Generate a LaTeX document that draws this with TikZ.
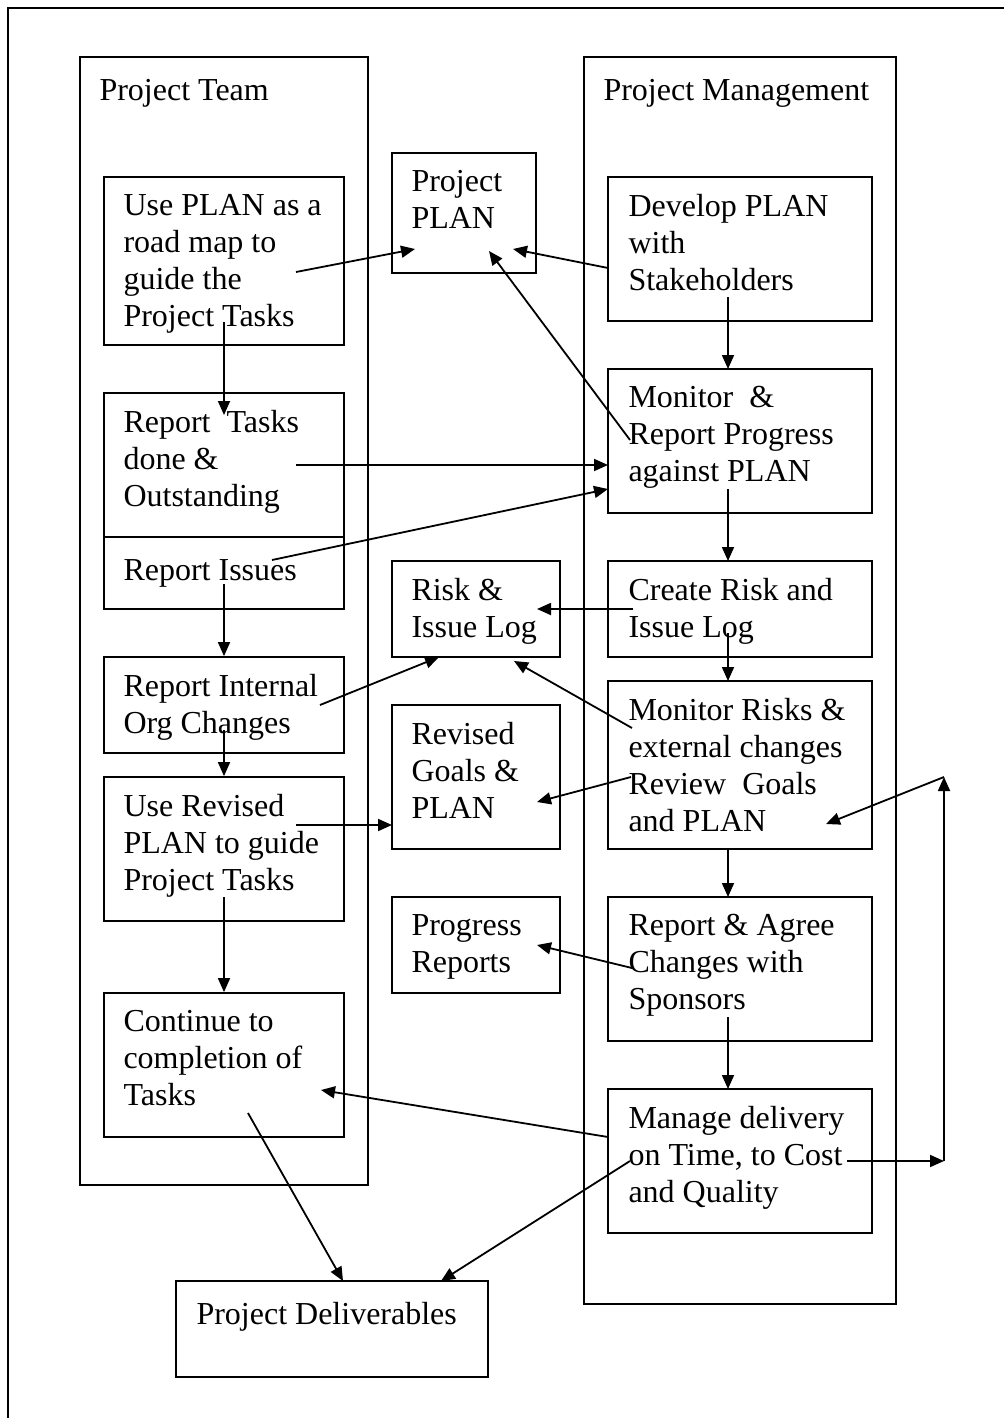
\documentclass[tikz,border=0pt]{standalone}
\usepackage{fontspec}
\setmainfont{Liberation Serif}
\usetikzlibrary{arrows.meta,calc,fit}
\begin{document}
\begin{tikzpicture}[x=0.5pt,y=-0.5pt,
  frame/.style={draw, line width=0.9pt, inner sep=0pt},
  lbl/.style={anchor=north west, inner sep=0pt, align=left,
    font=\fontsize{16}{18.5}\selectfont, execute at begin node=\strut},
  link/.style={line width=0.9pt, -{Triangle[length=7pt,width=6pt]}},
  plain/.style={line width=0.9pt}]
\useasboundingbox (0,0) rectangle (1004,1418);

% page frame (runs off the right and bottom edges)
\draw[plain] (8,1418) -- (8,8) -- (1004,8);

% swim lanes
\node[frame, fit={(80,57) (368,1185)}] (team) {};
\node[lbl] (team-t) at ($(team.north west)+(20,18)$) {Project Team};
\node[frame, fit={(584,57) (896,1304)}] (mgmt) {};
\node[lbl] (mgmt-t) at ($(mgmt.north west)+(20,18)$) {Project Management};

% project team boxes
\node[frame, fit={(104,177) (344,345)}] (b1) {};
\node[lbl] (b1-t) at ($(b1.north west)+(20,18)$) {Use PLAN as a\\road map to\\guide the\\Project Tasks};
\node[frame, fit={(104,393) (344,537)}] (b2) {};
\node[lbl] (b2-t) at ($(b2.north west)+(20,18)$) {Report\ \ Tasks\\done \&\\Outstanding};
\node[frame, fit={(104,537) (344,609)}] (b2i) {};
\node[lbl] (b2i-t) at ($(b2i.north west)+(20,18)$) {Report Issues};
\node[frame, fit={(104,657) (344,753)}] (b3) {};
\node[lbl] (b3-t) at ($(b3.north west)+(20,18)$) {Report Internal\\Org Changes};
\node[frame, fit={(104,777) (344,921)}] (b4) {};
\node[lbl] (b4-t) at ($(b4.north west)+(20,18)$) {Use Revised\\PLAN to guide\\Project Tasks};
\node[frame, fit={(104,993) (344,1137)}] (b5) {};
\node[lbl] (b5-t) at ($(b5.north west)+(20,18)$) {Continue to\\completion of\\Tasks};

% shared documents
\node[frame, fit={(392,153) (536,273)}] (plan) {};
\node[lbl] (plan-t) at ($(plan.north west)+(20,18)$) {Project\\PLAN};
\node[frame, fit={(392,561) (560,657)}] (risk) {};
\node[lbl] (risk-t) at ($(risk.north west)+(20,18)$) {Risk \&\\Issue Log};
\node[frame, fit={(392,705) (560,849)}] (rev) {};
\node[lbl] (rev-t) at ($(rev.north west)+(20,18)$) {Revised\\Goals \&\\PLAN};
\node[frame, fit={(392,897) (560,993)}] (prog) {};
\node[lbl] (prog-t) at ($(prog.north west)+(20,18)$) {Progress\\Reports};

% project management boxes
\node[frame, fit={(608,177) (872,321)}] (dev) {};
\node[lbl] (dev-t) at ($(dev.north west)+(21,18)$) {Develop PLAN\\with\\Stakeholders};
\node[frame, fit={(608,369) (872,513)}] (mon) {};
\node[lbl] (mon-t) at ($(mon.north west)+(21,18)$) {Monitor\ \ \&\\Report Progress\\against PLAN};
\node[frame, fit={(608,561) (872,657)}] (cre) {};
\node[lbl] (cre-t) at ($(cre.north west)+(21,18)$) {Create Risk and\\Issue Log};
\node[frame, fit={(608,681) (872,849)}] (mrk) {};
\node[lbl] (mrk-t) at ($(mrk.north west)+(21,18)$) {Monitor Risks \&\\external changes\\Review\ \ Goals\\and PLAN};
\node[frame, fit={(608,897) (872,1041)}] (rag) {};
\node[lbl] (rag-t) at ($(rag.north west)+(21,18)$) {Report \& Agree\\Changes with\\Sponsors};
\node[frame, fit={(608,1089) (872,1233)}] (man) {};
\node[lbl] (man-t) at ($(man.north west)+(21,18)$) {Manage delivery\\on Time, to Cost\\and Quality};

% outcome
\node[frame, fit={(176,1281) (488,1377)}] (del) {};
\node[lbl] (del-t) at ($(del.north west)+(21,18)$) {Project Deliverables};

% connector end points
\coordinate (b1-out) at (296,272);   \coordinate (plan-in1) at (415,249);
\coordinate (dev-out) at (608,268);  \coordinate (plan-in2) at (513,249);
\coordinate (mon-out) at (630,440);  \coordinate (plan-in3) at (489,251);
\coordinate (b1-down) at (224,322);  \coordinate (b2-in) at (224,415);
\coordinate (b2-out) at (296,465);   \coordinate (mon-in1) at (608,465);
\coordinate (b2i-out) at (272,560);  \coordinate (mon-in2) at (608,489);
\coordinate (b2i-down) at (224,584);
\coordinate (b3-out) at (320,705);   \coordinate (risk-in1) at (439,657);
\coordinate (b3-down) at (224,730);
\coordinate (b4-out) at (296,825);   \coordinate (rev-in1) at (392,825);
\coordinate (b4-down) at (224,897);
\coordinate (cre-out) at (633,609);  \coordinate (risk-in2) at (537,609);
\coordinate (mrk-out1) at (632,728); \coordinate (risk-in3) at (514,661);
\coordinate (mrk-out2) at (631,777); \coordinate (rev-in2) at (537,802);
\coordinate (rag-out) at (632,968);  \coordinate (prog-in) at (537,945);
\coordinate (dev-down) at (728,297); \coordinate (mon-top) at (728,369);
\coordinate (mon-down) at (728,489); \coordinate (cre-top) at (728,561);
\coordinate (cre-down) at (728,633); \coordinate (mrk-top) at (728,681);
\coordinate (mrk-down) at (728,849); \coordinate (rag-top) at (728,897);
\coordinate (rag-down) at (728,1017);\coordinate (man-top) at (728,1089);
\coordinate (man-out1) at (608,1137);\coordinate (b5-in) at (321,1090);
\coordinate (b5-out) at (248,1113);  \coordinate (del-in1) at (343,1281);
\coordinate (man-out2) at (630,1161);\coordinate (del-in2) at (441,1281);
\coordinate (man-out3) at (847,1161);\coordinate (loop-low) at (944,1161);
\coordinate (loop-high) at (944,777);\coordinate (mrk-in) at (826,824);

% connectors
\draw[link] (b1-out) -- (plan-in1);
\draw[link] (dev-out) -- (plan-in2);
\draw[link] (mon-out) -- (plan-in3);
\draw[link] (b1-down) -- (b2-in);
\draw[link] (b2-out) -- (mon-in1);
\draw[link] (b2i-out) -- (mon-in2);
\draw[link] (b2i-down) -- (b3.north);
\draw[link] (b3-out) -- (risk-in1);
\draw[link] (b3-down) -- (b4.north);
\draw[link] (b4-out) -- (rev-in1);
\draw[link] (b4-down) -- (b5.north);
\draw[link] (cre-out) -- (risk-in2);
\draw[link] (mrk-out1) -- (risk-in3);
\draw[link] (mrk-out2) -- (rev-in2);
\draw[link] (rag-out) -- (prog-in);
\draw[link] (dev-down) -- (mon-top);
\draw[link] (mon-down) -- (cre-top);
\draw[link] (cre-down) -- (mrk-top);
\draw[link] (mrk-down) -- (rag-top);
\draw[link] (rag-down) -- (man-top);
\draw[link] (man-out1) -- (b5-in);
\draw[link] (b5-out) -- (del-in1);
\draw[link] (man-out2) -- (del-in2);
\draw[link] (man-out3) -- (loop-low);
\draw[link] (loop-low) -- (loop-high);
\draw[link] (loop-high) -- (mrk-in);
\end{tikzpicture}
\end{document}
